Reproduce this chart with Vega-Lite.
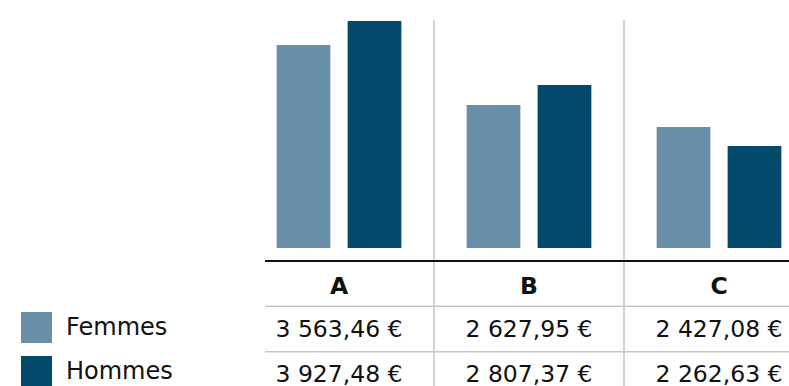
{
  "$schema": "https://vega.github.io/schema/vega-lite/v6.json",
  "width": 524,
  "height": 386,
  "autosize": {"type": "none"},
  "padding": {"left": 265, "top": 0, "right": 0, "bottom": 0},
  "background": "white",
  "config": {"view": {"stroke": null}, "font": "DejaVu Sans", "text": {"font": "DejaVu Sans"}},
  "datasets": {
    "barres": [
      {"groupe": "A", "sexe": "Femmes", "valeur": 3512},
      {"groupe": "A", "sexe": "Hommes", "valeur": 3927},
      {"groupe": "B", "sexe": "Femmes", "valeur": 2474},
      {"groupe": "B", "sexe": "Hommes", "valeur": 2820},
      {"groupe": "C", "sexe": "Femmes", "valeur": 2093},
      {"groupe": "C", "sexe": "Hommes", "valeur": 1765}
    ],
    "separateurs": [
      {"groupe": "B", "haut": 3945, "bas": -2500},
      {"groupe": "C", "haut": 3945, "bas": -2500}
    ],
    "tableau": [
      {"groupe": "A", "ligne": "tete", "texte": "A"},
      {"groupe": "B", "ligne": "tete", "texte": "B"},
      {"groupe": "C", "ligne": "tete", "texte": "C"},
      {"groupe": "A", "ligne": "Femmes", "texte": "3 563,46 €"},
      {"groupe": "B", "ligne": "Femmes", "texte": "2 627,95 €"},
      {"groupe": "C", "ligne": "Femmes", "texte": "2 427,08 €"},
      {"groupe": "A", "ligne": "Hommes", "texte": "3 927,48 €"},
      {"groupe": "B", "ligne": "Hommes", "texte": "2 807,37 €"},
      {"groupe": "C", "ligne": "Hommes", "texte": "2 262,63 €"}
    ],
    "lignes": [
      {"ligne": "tete"},
      {"ligne": "Femmes"},
      {"ligne": "Hommes"}
    ]
  },
  "layer": [
    {
      "data": {"name": "separateurs"},
      "mark": {"type": "rule", "color": "#c4c4c4", "strokeWidth": 1.5, "clip": false},
      "encoding": {
        "x": {"field": "groupe", "type": "nominal", "bandPosition": 0,
              "scale": {"domain": ["A", "B", "C"], "range": [-21, 549], "paddingInner": 0, "paddingOuter": 0}, "axis": null},
        "y": {"field": "haut", "type": "quantitative",
              "scale": {"domain": [0, 3927], "range": [248, 21], "nice": false, "zero": false}, "axis": null},
        "y2": {"field": "bas"}
      }
    },
    {
      "data": {"name": "barres"},
      "mark": {"type": "bar", "clip": false},
      "encoding": {
        "x": {"field": "groupe", "type": "nominal",
              "scale": {"domain": ["A", "B", "C"], "range": [-21, 549], "paddingInner": 0, "paddingOuter": 0}, "axis": null},
        "xOffset": {"field": "sexe", "type": "nominal",
                    "scale": {"domain": ["Femmes", "Hommes"], "paddingInner": 0.243, "paddingOuter": 0.46}},
        "y": {"field": "valeur", "type": "quantitative",
              "scale": {"domain": [0, 3927], "range": [248, 21], "nice": false, "zero": false}, "axis": null},
        "color": {"field": "sexe", "type": "nominal",
                  "scale": {"domain": ["Femmes", "Hommes"], "range": ["#698ea7", "#024a6b"]},
                  "legend": {"orient": "none", "legendX": -244, "legendY": 312, "padding": 0, "title": null,
                             "symbolType": "square", "symbolSize": 961, "symbolStrokeWidth": 0, "symbolOpacity": 1,
                             "labelFontSize": 24, "labelFont": "DejaVu Sans", "labelColor": "#111111", "labelOffset": 14,
                             "rowPadding": 13, "labelLimit": 200}}
      }
    },
    {
      "data": {"name": "lignes"},
      "transform": [{"filter": "datum.ligne !== 'tete'"}],
      "mark": {"type": "rule", "color": "#c8c8c8", "strokeWidth": 1.5},
      "encoding": {
        "y": {"field": "ligne", "type": "nominal", "bandPosition": 0,
              "scale": {"domain": ["tete", "Femmes", "Hommes"], "range": [261, 397], "paddingInner": 0, "paddingOuter": 0}, "axis": null}
      }
    },
    {
      "data": {"name": "lignes"},
      "transform": [{"filter": "datum.ligne === 'tete'"}],
      "mark": {"type": "rule", "color": "#111111", "strokeWidth": 2},
      "encoding": {
        "y": {"field": "ligne", "type": "nominal", "bandPosition": 0,
              "scale": {"domain": ["tete", "Femmes", "Hommes"], "range": [261, 397], "paddingInner": 0, "paddingOuter": 0}, "axis": null}
      }
    },
    {
      "data": {"name": "tableau"},
      "transform": [{"filter": "datum.ligne === 'tete'"}],
      "mark": {"type": "text", "fontSize": 23.5, "fontWeight": "bold", "color": "#111111", "baseline": "middle", "dy": 3, "clip": false},
      "encoding": {
        "x": {"field": "groupe", "type": "nominal",
              "scale": {"domain": ["A", "B", "C"], "range": [-21, 549], "paddingInner": 0, "paddingOuter": 0}, "axis": null},
        "y": {"field": "ligne", "type": "nominal",
              "scale": {"domain": ["tete", "Femmes", "Hommes"], "range": [261, 397], "paddingInner": 0, "paddingOuter": 0}, "axis": null},
        "text": {"field": "texte"}
      }
    },
    {
      "data": {"name": "tableau"},
      "transform": [{"filter": "datum.ligne !== 'tete'"}],
      "mark": {"type": "text", "fontSize": 23.5, "color": "#111111", "baseline": "middle", "dy": 1, "clip": false},
      "encoding": {
        "x": {"field": "groupe", "type": "nominal",
              "scale": {"domain": ["A", "B", "C"], "range": [-21, 549], "paddingInner": 0, "paddingOuter": 0}, "axis": null},
        "y": {"field": "ligne", "type": "nominal",
              "scale": {"domain": ["tete", "Femmes", "Hommes"], "range": [261, 397], "paddingInner": 0, "paddingOuter": 0}, "axis": null},
        "text": {"field": "texte"}
      }
    }
  ],
  "resolve": {"scale": {"y": "independent"}}
}
